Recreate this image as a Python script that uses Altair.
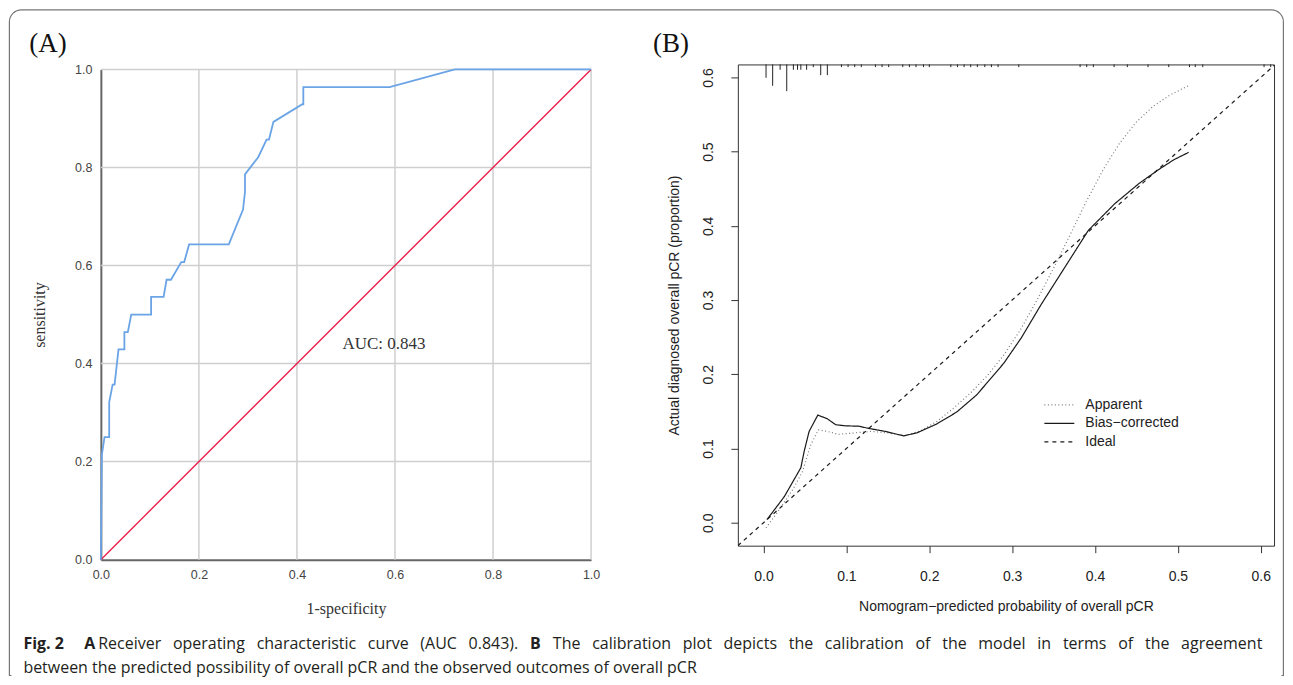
import altair as alt
import pandas as pd

# ---------------- data: panel A (ROC) ----------------
roc_fpr = [0.0, 0.002, 0.0075, 0.017, 0.017, 0.024, 0.028, 0.036, 0.048, 0.048,
           0.055, 0.062, 0.1025, 0.1025, 0.128, 0.134, 0.143, 0.164, 0.170, 0.180,
           0.261, 0.290, 0.294, 0.294, 0.321, 0.338, 0.343, 0.352, 0.411, 0.413,
           0.413, 0.589, 0.722, 1.0]
roc_tpr = [0.0, 0.214, 0.25, 0.25, 0.321, 0.357, 0.357, 0.429, 0.429, 0.464,
           0.464, 0.5, 0.5, 0.536, 0.536, 0.571, 0.571, 0.607, 0.607, 0.643,
           0.643, 0.714, 0.75, 0.786, 0.821, 0.857, 0.857, 0.893, 0.929, 0.929,
           0.964, 0.964, 1.0, 1.0]
diag_vals = [0.0, 1.0]
grid_A = [0.2, 0.4, 0.6, 0.8, 1.0]
ticks_A = [0.0, 0.2, 0.4, 0.6, 0.8, 1.0]
auc_text = "AUC: 0.843"

# ---------------- data: panel B (calibration) ----------------
series_names = ["Apparent", "Bias\u2212corrected", "Ideal"]
app_x = [0.003, 0.020, 0.036, 0.047, 0.057, 0.066, 0.077, 0.090, 0.110, 0.130,
         0.150, 0.170, 0.190, 0.210, 0.230, 0.250, 0.270, 0.290, 0.310, 0.330,
         0.350, 0.370, 0.390, 0.410, 0.430, 0.450, 0.470, 0.490, 0.513]
app_y = [-0.007, 0.019, 0.046, 0.069, 0.105, 0.125, 0.123, 0.119, 0.121, 0.123,
         0.121, 0.117, 0.124, 0.137, 0.155, 0.175, 0.198, 0.226, 0.260, 0.300,
         0.343, 0.388, 0.434, 0.476, 0.512, 0.540, 0.561, 0.576, 0.589]
bc_x = [0.004, 0.025, 0.045, 0.049, 0.055, 0.0655, 0.077, 0.087, 0.099, 0.115,
        0.127, 0.147, 0.169, 0.185, 0.209, 0.233, 0.257, 0.274, 0.290, 0.311,
        0.335, 0.3635, 0.392, 0.424, 0.453, 0.477, 0.495, 0.513]
bc_y = [0.004, 0.035, 0.074, 0.096, 0.123, 0.145, 0.140, 0.132, 0.1305, 0.130,
        0.127, 0.123, 0.117, 0.121, 0.133, 0.149, 0.172, 0.194, 0.215, 0.249,
        0.294, 0.344, 0.394, 0.430, 0.457, 0.476, 0.489, 0.499]
ideal_xy = [-0.031, 0.6175]
ticks_B = [0.0, 0.1, 0.2, 0.3, 0.4, 0.5, 0.6]
rug_x = [0.003, 0.011, 0.020, 0.028, 0.036, 0.041, 0.045, 0.052, 0.060, 0.069,
         0.077, 0.094, 0.102, 0.110, 0.118, 0.135, 0.143, 0.151, 0.168, 0.176,
         0.184, 0.193, 0.200, 0.226, 0.234, 0.242, 0.250, 0.258, 0.267, 0.275,
         0.283, 0.308, 0.382, 0.390, 0.398, 0.423, 0.439, 0.464, 0.489, 0.514,
         0.521, 0.530, 0.604, 0.612]
rug_n = [5, 8, 2, 10, 2, 2, 2, 2, 1, 4,
         4, 1, 1, 1, 1, 1, 1, 1, 1, 1,
         1, 1, 1, 1, 1, 1, 1, 1, 1, 1,
         1, 1, 1, 1, 1, 1, 1, 1, 1, 1,
         1, 1, 1, 1]

# ---------------- caption text ----------------
cap_bold_1 = "Fig. 2"
cap_bold_A = "A"
cap_text_A = "Receiver operating characteristic curve (AUC 0.843)."
cap_bold_B = "B"
cap_text_B = "The calibration plot depicts the calibration of the model in terms of the agreement"
cap_line_2 = "between the predicted possibility of overall pCR and the observed outcomes of overall pCR"

SANS = "Liberation Sans"
SERIF = "Liberation Serif"
CAP = "Open Sans"
CAP_SIZE = 16
CAP_COLOR = "#231f20"

# page -> panel-A pixel offsets (panel A plot origin on the page)
OX, OY = 99.6, 62.6

one = pd.DataFrame({"k": [0]})


def label(text, x, y, **kw):
    return alt.Chart(pd.DataFrame({"t": [text]})).mark_text(**kw).encode(
        x=alt.value(x), y=alt.value(y), text="t:N")


# approximate Open Sans advance widths (units per 2048 em) for justified caption layout
OS_W = {" ": 532, ".": 545, ",": 502, "(": 606, ")": 606, ":": 545, "-": 659,
        "0": 1171, "1": 1171, "2": 1171, "3": 1171, "4": 1171, "5": 1171, "6": 1171,
        "7": 1171, "8": 1171, "9": 1171,
        "A": 1296, "B": 1327, "C": 1292, "R": 1266, "U": 1491, "T": 1133, "P": 1233,
        "a": 1139, "b": 1255, "c": 975, "d": 1255, "e": 1149, "f": 694, "g": 1122,
        "h": 1257, "i": 518, "j": 518, "k": 1075, "l": 518, "m": 1905, "n": 1257,
        "o": 1237, "p": 1255, "q": 1255, "r": 836, "s": 977, "t": 723, "u": 1257,
        "v": 1026, "w": 1593, "x": 1073, "y": 1028, "z": 977}


def text_width(s, size, bold=False):
    w = sum(OS_W.get(ch, 1150) for ch in s) / 2048.0 * size
    return w * (1.07 if bold else 1.0)


# ================= Panel A =================
A_W, A_H, A_OFF = 491, 496, 5
xs_A = alt.Scale(domain=[0, 1], nice=False, zero=False)
ys_A = alt.Scale(domain=[0, 1], nice=False, zero=False, range=[A_H, A_OFF])
axis_xa = alt.Axis(values=ticks_A, format=".1f", title="1-specificity", grid=False,
                   ticks=False, tickSize=0, domainColor="#666", domainWidth=2,
                   labelFont=SANS, labelFontSize=12.5, labelColor="#444", labelPadding=9,
                   labelFlush=False, titleFont=SERIF, titleFontSize=16,
                   titleFontWeight="normal", titleColor="#333", titlePadding=19)
axis_ya = alt.Axis(values=ticks_A, format=".1f", title="sensitivity", grid=False,
                   ticks=False, tickSize=0, domainColor="#666", domainWidth=2,
                   labelFont=SANS, labelFontSize=12.5, labelColor="#444", labelPadding=9,
                   labelFlush=False, titleFont=SERIF, titleFontSize=16,
                   titleFontWeight="normal", titleColor="#333", titlePadding=27)

grid_df = pd.DataFrame({"g": grid_A})
vgrid = alt.Chart(grid_df).mark_rule(color="#cfcfcf", strokeWidth=1.5).encode(
    x=alt.X("g:Q", scale=xs_A, axis=axis_xa), y=alt.datum(0), y2=alt.datum(1))
hgrid = alt.Chart(grid_df).mark_rule(color="#cfcfcf", strokeWidth=1.5).encode(
    y=alt.Y("g:Q", scale=ys_A, axis=axis_ya), x=alt.datum(0), x2=alt.datum(1))

diag_df = pd.DataFrame({"fpr": diag_vals, "tpr": diag_vals})
diag = alt.Chart(diag_df).mark_line(color="#e8224c", strokeWidth=1.4).encode(
    x=alt.X("fpr:Q", scale=xs_A, axis=axis_xa),
    y=alt.Y("tpr:Q", scale=ys_A, axis=axis_ya))

roc_df = pd.DataFrame({"fpr": roc_fpr, "tpr": roc_tpr, "i": list(range(len(roc_fpr)))})
roc = alt.Chart(roc_df).mark_line(color="#6aa4e6", strokeWidth=1.8).encode(
    x=alt.X("fpr:Q", scale=xs_A, axis=axis_xa),
    y=alt.Y("tpr:Q", scale=ys_A, axis=axis_ya),
    order="i:Q")

auc = alt.Chart(pd.DataFrame({"t": [auc_text]})).mark_text(
    font=SERIF, fontSize=17, align="left", baseline="middle", color="#333").encode(
    x=alt.datum(0.493), y=alt.datum(0.44), text="t:N")

# frame (decoration, in panel-A pixel coordinates)
frame = alt.Chart(one).mark_rect(fill="transparent", stroke="#777", strokeWidth=1.2,
                                 cornerRadiusTopLeft=12, cornerRadiusTopRight=12).encode(
    x=alt.value(8 - OX), x2=alt.value(1284 - OX), y=alt.value(8 - OY), y2=alt.value(612))
frame_cover = alt.Chart(one).mark_rule(color="white", strokeWidth=3).encode(
    x=alt.value(10 - OX), x2=alt.value(1282 - OX), y=alt.value(612))

title_A = label("(A)", 28 - OX, 50 - OY, font=SERIF, fontSize=27, align="left",
                baseline="alphabetic", color="#111")

# caption: bold lead-in, justified first line, ragged last line
CY1, CY2 = 648 - OY, 672.5 - OY
cap = [
    label(cap_bold_1, 22 - OX, CY1, font=CAP, fontSize=CAP_SIZE, fontWeight="bold",
          align="left", baseline="alphabetic", color=CAP_COLOR),
    label(cap_bold_A, 83 - OX, CY1, font=CAP, fontSize=CAP_SIZE, fontWeight="bold",
          align="left", baseline="alphabetic", color=CAP_COLOR),
    label(cap_line_2, 22 - OX, CY2, font=CAP, fontSize=CAP_SIZE, align="left",
          baseline="alphabetic", color=CAP_COLOR),
]
words1 = cap_text_A.split() + [cap_bold_B] + cap_text_B.split()
bold1 = [False] * len(cap_text_A.split()) + [True] + [False] * len(cap_text_B.split())
L1_START, L1_END = 97.0, 1263.0
widths1 = [text_width(w, CAP_SIZE, b) for w, b in zip(words1, bold1)]
gap1 = (L1_END - L1_START - sum(widths1)) / (len(words1) - 1)
cur = L1_START
for w, b, wd in zip(words1, bold1, widths1):
    cap.append(label(w, cur - OX, CY1, font=CAP, fontSize=CAP_SIZE,
                     fontWeight="bold" if b else "normal", align="left",
                     baseline="alphabetic", color=CAP_COLOR))
    cur += wd + gap1

panel_A = alt.layer(frame, frame_cover, vgrid, hgrid, diag, roc, auc, title_A, *cap).properties(
    width=A_W, height=A_H)

# ================= Panel B =================
B_W, B_H = 537, 482
TOP_B = 0.6175
xs_B = alt.Scale(domain=[-0.031, 0.616], nice=False, zero=False)
ys_B = alt.Scale(domain=[-0.031, TOP_B], nice=False, zero=False)
axis_xb = alt.Axis(values=ticks_B, format=".1f",
                   title="Nomogram\u2212predicted probability of overall pCR",
                   grid=False, domain=False, tickSize=7, tickColor="#333", tickWidth=1,
                   labelFont=SANS, labelFontSize=14, labelColor="#222", labelPadding=17,
                   labelFlush=False, titleFont=SANS, titleFontSize=14,
                   titleFontWeight="normal", titleColor="#222", titlePadding=16)
axis_yb = alt.Axis(values=ticks_B, format=".1f",
                   title="Actual diagnosed overall pCR (proportion)",
                   grid=False, domain=False, tickSize=7, tickColor="#333", tickWidth=1,
                   labelFont=SANS, labelFontSize=14, labelColor="#222", labelPadding=15,
                   labelAngle=270, labelAlign="center", labelBaseline="bottom",
                   labelFlush=False, titleFont=SANS, titleFontSize=14,
                   titleFontWeight="normal", titleColor="#222", titlePadding=20)

rows = []
for xv, yv in zip(app_x, app_y):
    rows.append({"x": xv, "y": yv, "series": series_names[0]})
for xv, yv in zip(bc_x, bc_y):
    rows.append({"x": xv, "y": yv, "series": series_names[1]})
for v in ideal_xy:
    rows.append({"x": v, "y": v, "series": series_names[2]})
lines_df = pd.DataFrame(rows)

leg = alt.Legend(orient="none", legendX=953, legendY=334, title=None,
                 symbolType="M-3,0H3", symbolSize=100, symbolStrokeWidth=1.2,
                 labelFont=SANS, labelFontSize=14, labelColor="#222",
                 labelOffset=19, rowPadding=4.5, padding=0)

lines = alt.Chart(lines_df).mark_line(strokeWidth=1.2, clip=True).encode(
    x=alt.X("x:Q", scale=xs_B, axis=axis_xb),
    y=alt.Y("y:Q", scale=ys_B, axis=axis_yb),
    color=alt.Color("series:N", scale=alt.Scale(domain=series_names,
                                                range=["#7a7a7a", "#1a1a1a", "#1a1a1a"]),
                    legend=leg),
    strokeDash=alt.StrokeDash("series:N", scale=alt.Scale(domain=series_names,
                                                          range=[[1, 2.5], [1, 0], [4, 4]]),
                              legend=leg))

rug_df = pd.DataFrame({"rx": rug_x, "n": rug_n})
rug = alt.Chart(rug_df).transform_calculate(
    ylow=f"{TOP_B} - datum.n * 0.0036").mark_rule(color="#222", strokeWidth=1).encode(
    x=alt.X("rx:Q", scale=xs_B, axis=axis_xb),
    y=alt.Y("ylow:Q", scale=ys_B, axis=axis_yb),
    y2=alt.value(0))

title_B = label("(B)", -85, 50 - OY, font=SERIF, fontSize=27, align="left",
                baseline="alphabetic", color="#111")

panel_B = alt.layer(rug, lines, title_B).properties(
    width=B_W, height=B_H, view=alt.ViewBackground(stroke="#333", strokeWidth=1))

chart = alt.hconcat(panel_A, panel_B, spacing=147, bounds="flush").properties(
    padding=0, background="white").configure_view(stroke="transparent")

chart.save("out.html", embed_options={"renderer": "svg", "actions": False})
